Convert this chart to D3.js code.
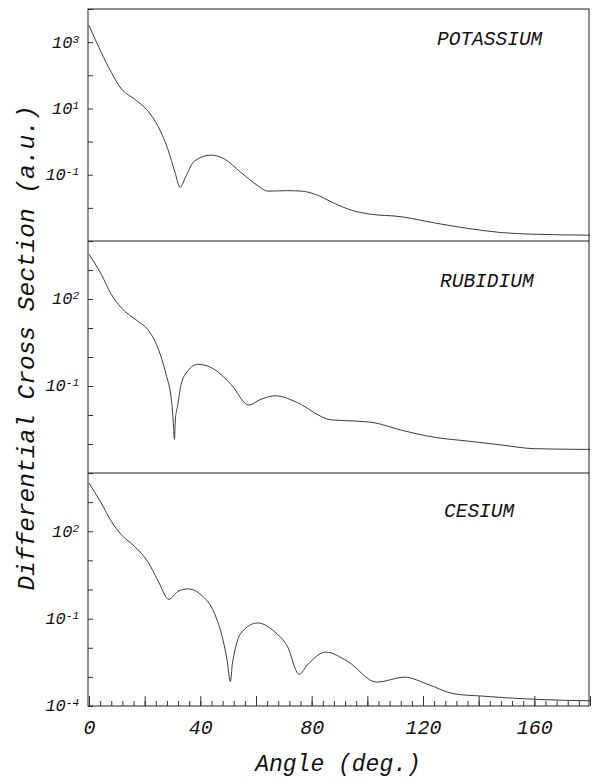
<!DOCTYPE html>
<html>
<head>
<script type="text/javascript" src="https://d3js.org/d3.v7.min.js"></script>
<title>Differential cross sections</title>
<style>
body { margin:0; background:#fff; }
text { font-family:"Liberation Mono","DejaVu Sans Mono",monospace; font-style:italic; fill:#111; }
</style>
</head>
<body>
<div id="chart"></div>

<script type="text/javascript">
// angle (deg) and cross section (a.u.)
var kAngle = [0, 4.4, 8, 11.6, 16.4, 21.1, 24.7, 28.3, 30.9, 32.7, 34.9, 37.9, 43.9, 48.6, 54.6, 60.6, 64.2, 71.3, 76.3, 81.1, 88.3, 94.3, 100.3, 112.2, 124.2, 136.1, 148, 160, 180];
var kValue = [3.2e3, 490, 123, 39, 19, 8.5, 3.0, 0.60, 0.117, 0.042, 0.093, 0.26, 0.39, 0.30, 0.117, 0.047, 0.032, 0.033, 0.032, 0.026, 0.0135, 0.0085, 0.0066, 0.0054, 0.0035, 0.0024, 0.0018, 0.0016, 0.0015];

var rbAngle = [0, 4.4, 8, 11.6, 17.6, 21.1, 24.7, 27.7, 29.5, 29.9, 30.4, 30.7, 31.0, 31.4, 31.7, 33.1, 35.5, 39.1, 43.9, 51, 57.4, 61.8, 67.2, 73.7, 76.3, 80.9, 86.9, 95.3, 102.5, 112.2, 124.2, 136.1, 148, 160, 180];
var rbValue = [3.5e3, 710, 145, 50, 17, 8.9, 2.1, 0.25, 0.040, 0.018, 0.0036, 0.00145, 0.0062, 0.0135, 0.018, 0.115, 0.33, 0.56, 0.43, 0.115, 0.022, 0.035, 0.046, 0.030, 0.023, 0.012, 0.0068, 0.0062, 0.0054, 0.0030, 0.0017, 0.00126, 0.00093, 0.00069, 0.00065];

var csAngle = [0, 4.4, 8, 11.6, 16.4, 21.1, 24.7, 28.7, 31.9, 35.5, 40.3, 45.1, 48.1, 49.6, 50.8, 51.5, 52.2, 54.6, 60.6, 66.6, 71.3, 75.5, 78.5, 85.1, 92.9, 103.4, 113.4, 121.8, 131.3, 140.9, 150.4, 162.4, 180];
var csValue = [4.5e3, 930, 220, 76, 30, 9.1, 2.1, 0.46, 0.85, 1.05, 0.65, 0.15, 0.019, 0.0038, 0.00069, 0.0028, 0.0065, 0.032, 0.071, 0.036, 0.011, 0.00123, 0.0026, 0.0071, 0.0034, 0.00066, 0.00098, 0.00055, 0.00026, 0.00022, 0.00019, 0.000166, 0.000151];

var panelNames = ["POTASSIUM", "RUBIDIUM", "CESIUM"];
var yDomains = [[1e-3, 1e4], [1e-4, 1e4], [1e-4, 1e4]];
var yLabelExps = [[3, 1, -1], [2, -1], [2, -1, -4]];
var xTickLabels = [0, 40, 80, 120, 160];

var w = 592, h = 779;
var left = 88, right = 589;
var bands = [[9, 241], [241, 473], [473, 706]];
var labelPos = [[437, 45], [440, 287], [444, 517]];

var svg = d3.select("#chart").append("svg")
  .attr("width", w).attr("height", h);

var x = d3.scaleLinear().domain([0, 180]).range([left + 1, right + 1]);

var series = [
  d3.zip(kAngle, kValue),
  d3.zip(rbAngle, rbValue),
  d3.zip(csAngle, csValue)
];

series.forEach(function(data, i) {
  var top = bands[i][0], bot = bands[i][1];
  var y = d3.scaleLog().domain(yDomains[i]).range([bot, top]);
  var lo = Math.log10(yDomains[i][0]), hi = Math.log10(yDomains[i][1]);
  var decades = d3.range(lo, hi + 1).map(function(e) { return Math.pow(10, e); });

  // inward decade ticks on the left
  var ya = svg.append("g").attr("transform", "translate(" + left + ",0)")
    .call(d3.axisLeft(y).tickValues(decades).tickSize(-5).tickFormat(""));
  ya.select(".domain").remove();
  ya.selectAll("line").attr("stroke", "#333");

  // labels like 10^3
  var lab = svg.append("g");
  yLabelExps[i].forEach(function(e) {
    var t = lab.append("text")
      .attr("x", 79).attr("y", y(Math.pow(10, e)))
      .attr("dy", "0.32em")
      .attr("text-anchor", "end")
      .style("font-size", "17px")
      .text("10");
    t.append("tspan")
      .attr("dy", "-0.45em")
      .style("font-size", "11px")
      .text(e);
  });

  var line = d3.line()
    .x(function(d) { return x(d[0]); })
    .y(function(d) { return y(d[1]); })
    .curve(d3.curveMonotoneX);

  svg.append("path").datum(data)
    .attr("d", line)
    .attr("fill", "none")
    .attr("stroke", "#3a3a3a")
    .attr("stroke-width", 1);

  svg.append("text")
    .attr("x", labelPos[i][0]).attr("y", labelPos[i][1])
    .style("font-size", "19.5px")
    .text(panelNames[i]);
});

// frame and panel dividers
svg.append("rect")
  .attr("x", left).attr("y", bands[0][0])
  .attr("width", right - left).attr("height", bands[2][1] - bands[0][0])
  .attr("fill", "none").attr("stroke", "#222").attr("stroke-width", 1);

[bands[0][1], bands[1][1]].forEach(function(yy) {
  svg.append("line")
    .attr("x1", left).attr("x2", right)
    .attr("y1", yy).attr("y2", yy)
    .attr("stroke", "#222").attr("stroke-width", 1.2);
});

// bottom axis: minor every 4, major every 20
var bottom = bands[2][1];
var minor = svg.append("g").attr("transform", "translate(0," + bottom + ")")
  .call(d3.axisBottom(x).tickValues(d3.range(0, 181, 4)).tickSize(-5).tickFormat(""));
minor.select(".domain").remove();

var major = svg.append("g").attr("transform", "translate(0," + bottom + ")")
  .call(d3.axisBottom(x).tickValues(d3.range(0, 181, 20)).tickSize(-10).tickPadding(14)
    .tickFormat(function(d) { return xTickLabels.indexOf(d) >= 0 ? d : ""; }));
major.select(".domain").remove();
major.selectAll("text").style("font-size", "20px").attr("fill", "#111");
svg.selectAll(".tick line").attr("stroke", "#333");

svg.append("text")
  .attr("x", 338).attr("y", 771)
  .attr("text-anchor", "middle")
  .style("font-size", "23px")
  .text("Angle (deg.)");

svg.append("text")
  .attr("transform", "translate(34,348) rotate(-90)")
  .attr("text-anchor", "middle")
  .style("font-size", "24.5px")
  .text("Differential Cross Section (a.u.)");
</script>
</body></html>
